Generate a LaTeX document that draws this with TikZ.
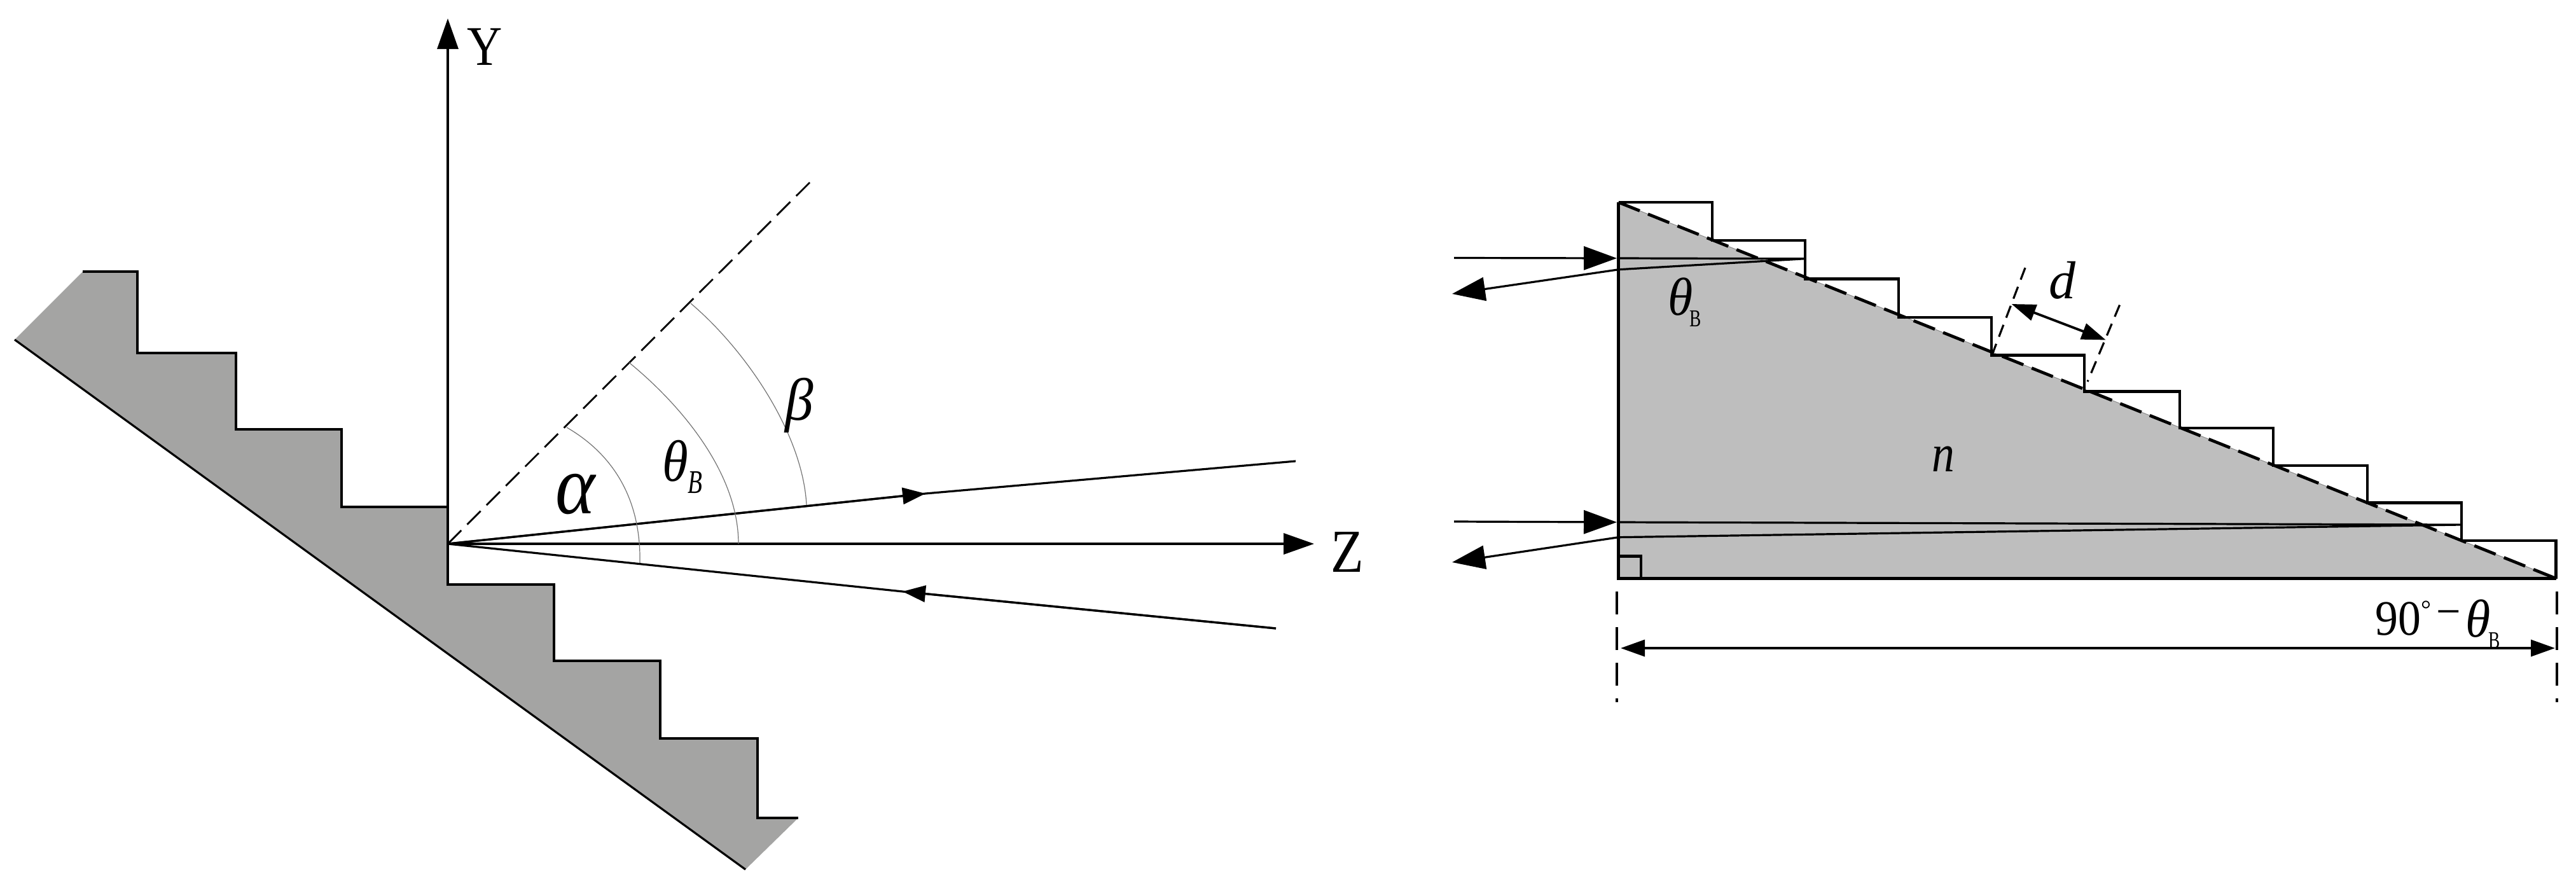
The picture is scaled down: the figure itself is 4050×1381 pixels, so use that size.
\documentclass[tikz,border=0pt]{standalone}
\usepackage{fontspec}
\setmainfont{Liberation Serif}
\usetikzlibrary{arrows.meta}
\definecolor{leftgray}{HTML}{A4A4A3}
\definecolor{rightgray}{HTML}{BEBEBE}
\newcommand{\lbl}[3]{\scalebox{#2}[1]{\fontsize{#1}{#1}\selectfont #3}}
\tikzset{
  px/.style={x=0.5pt,y=-0.5pt},
  thinline/.style={line width=1.6pt,draw=black},
  heavy/.style={line width=2.3pt,draw=black,line join=miter},
  arcline/.style={line width=0.6pt,draw=black!55},
  dashl/.style={line width=1.4pt,draw=black,dash pattern=on 15pt off 6.5pt},
  hypd/.style={line width=2.4pt,draw=black,dash pattern=on 18pt off 7pt},
  dimd/.style={line width=1.7pt,draw=black,dash pattern=on 18pt off 10pt},
  ddash/.style={line width=1.6pt,draw=black,dash pattern=on 10pt off 6pt},
  tipA/.style={-{Triangle[length=24pt,width=16.5pt]}},
  tipB/.style={-{Triangle[length=18pt,width=13pt]}},
  tipC/.style={-{Triangle[length=26pt,width=18.5pt]}},
  tipE/.style={{Triangle[length=19pt,width=13pt]}-{Triangle[length=19pt,width=13pt]}},
  txt/.style={inner sep=0pt,outer sep=0pt,anchor=center},
}
\begin{document}
\begin{tikzpicture}[px]
\useasboundingbox (0,0) rectangle (4050,1381);
% ---------- left figure ----------
\coordinate (O) at (704,855);
\coordinate (Ytop) at (704,29);
\coordinate (Zend) at (2066,855);
\coordinate (Dend) at (1279,281);
\coordinate (Uend) at (2037,725);
\coordinate (Utip) at (1455,776);
\coordinate (Lend) at (2006,988);
\coordinate (Ltip) at (1419,930);
\fill[leftgray]
  (130,427) -- (216,427) -- (216,555) -- (371,555) -- (371,675) -- (537,675)
  -- (537,797) -- (704,797) -- (704,919) -- (871,919) -- (871,1039) -- (1038,1039)
  -- (1038,1161) -- (1191,1161) -- (1191,1286) -- (1255,1286)
  -- (1172,1367) -- (23,534) -- cycle;
\draw[thinline,line join=miter]
  (130,427) -- (216,427) -- (216,555) -- (371,555) -- (371,675) -- (537,675)
  -- (537,797) -- (704,797) -- (704,919) -- (871,919) -- (871,1039) -- (1038,1039)
  -- (1038,1161) -- (1191,1161) -- (1191,1286) -- (1255,1286);
\draw[thinline] (1172,1367) -- (23,534);
\draw[thinline,tipA] (O) -- (Ytop);
\draw[thinline,tipA] (O) -- (Zend);
\draw[dashl] (O) -- (Dend);
\draw[thinline] (O) -- (Utip) -- (Uend);
\draw[thinline,tipB] (O) -- (Utip);
\draw[thinline] (Lend) -- (Ltip) -- (O);
\draw[thinline,tipB] (Lend) -- (Ltip);
\draw[arcline] (891,672) .. controls (960,712) and (1008,780) .. (1006,885);
\draw[arcline] (989,570) .. controls (1065,632) and (1161,740) .. (1161,855);
\draw[arcline] (1086,477) .. controls (1170,548) and (1262,680) .. (1268,794);
\node[txt] (ylabel) at (762,74) {\lbl{44pt}{0.87}{Y}};
\node[txt] (zlabel) at (2118,868) {\lbl{48pt}{0.88}{Z}};
\node[txt] (alpha) at (905,777) {\lbl{66pt}{0.9}{\itshape α}};
\node[txt] (thetaL) at (1062,725) {\lbl{46pt}{0.9}{\itshape θ}};
\node[txt] (bL) at (1093,759) {\lbl{26pt}{0.72}{\itshape B}};
\node[txt] (beta) at (1257,637) {\lbl{47pt}{0.95}{\itshape β}};
% ---------- right figure ----------
\coordinate (TL) at (2544.5,318);
\coordinate (BL) at (2544.5,909.5);
\coordinate (BR) at (4018.5,909.5);
\coordinate (R1) at (3870,825);
\coordinate (R2) at (2837,406.8);
\fill[rightgray] (TL) -- (BL) -- (BR) -- cycle;
\draw[line width=0.5pt,black!45] (TL) -- (BR);
\draw[hypd] (TL) -- (BR);
\draw[heavy] (BR) -- (BL) -- (TL);
\draw[heavy] (TL) -- (2692,318) -- (2692,378) -- (2838,378) -- (2838,438.5) -- (2985,438.5)
  -- (2985,499) -- (3131,499) -- (3131,558.5) -- (3277,558.5) -- (3277,615.4) -- (3427,615.4)
  -- (3427,673) -- (3574,673) -- (3574,732) -- (3722,732) -- (3722,790.5) -- (3870,790.5)
  -- (3870,850) -- (4018.5,850) -- (BR);
\draw[heavy] (2544.5,874.6) -- (2580,874.6) -- (2580,909.5);
% upper ray pair
\coordinate (IU) at (2286,405.5);
\coordinate (IUt) at (2542,406);
\coordinate (EU) at (2544.5,423.8);
\coordinate (OU) at (2283,462);
\draw[thinline,tipC] (IU) -- (IUt);
\draw[thinline] (IUt) -- (R2) -- (EU);
\draw[thinline,tipC] (EU) -- (OU);
% lower ray pair
\coordinate (IL) at (2286,820);
\coordinate (ILt) at (2542,821);
\coordinate (EL) at (2544.5,844.7);
\coordinate (OL) at (2283,884);
\draw[thinline,tipC] (IL) -- (ILt);
\draw[thinline] (ILt) -- (R1) -- (EL);
\draw[thinline,tipC] (EL) -- (OL);
% dimension
\coordinate (D1a) at (2542,930);
\coordinate (D1b) at (2542,1104);
\coordinate (D2a) at (4020,930);
\coordinate (D2b) at (4020,1104);
\coordinate (DA) at (2548,1019);
\coordinate (DB) at (4017,1019);
\draw[dimd] (D1a) -- (D1b);
\draw[dimd] (D2a) -- (D2b);
\draw[line width=1.9pt,tipE] (DA) -- (DB);
% d marker
\coordinate (dLa) at (3184,421);
\coordinate (dLb) at (3133,555);
\coordinate (dRa) at (3332.5,479.5);
\coordinate (dRb) at (3282,600);
\coordinate (dA) at (3162.6,478);
\coordinate (dB) at (3310.7,534.5);
\draw[ddash] (dLa) -- (dLb);
\draw[ddash] (dRa) -- (dRb);
\draw[line width=1.9pt,tipE] (dA) -- (dB);
\node[txt] (dlabel) at (3242,441) {\lbl{42pt}{1}{\itshape d}};
\node[txt] (nlabel) at (3055,722) {\lbl{42pt}{0.85}{\itshape n}};
\node[txt] (thetaR) at (2642,467) {\lbl{42pt}{0.95}{\itshape θ}};
\node[txt] (bR) at (2666,501) {\lbl{19pt}{0.72}{B}};
\node[txt] (deg) at (3770,973) {\lbl{39pt}{0.92}{90}};
\node[txt] (degs) at (3814,958) {\lbl{20pt}{1}{°}};
\node[txt] (minus) at (3850,973) {\lbl{36pt}{0.95}{−}};
\node[txt] (thetaD) at (3896,973) {\lbl{42pt}{0.95}{\itshape θ}};
\node[txt] (bD) at (3922,1007) {\lbl{19pt}{0.72}{B}};
\end{tikzpicture}
\end{document}
